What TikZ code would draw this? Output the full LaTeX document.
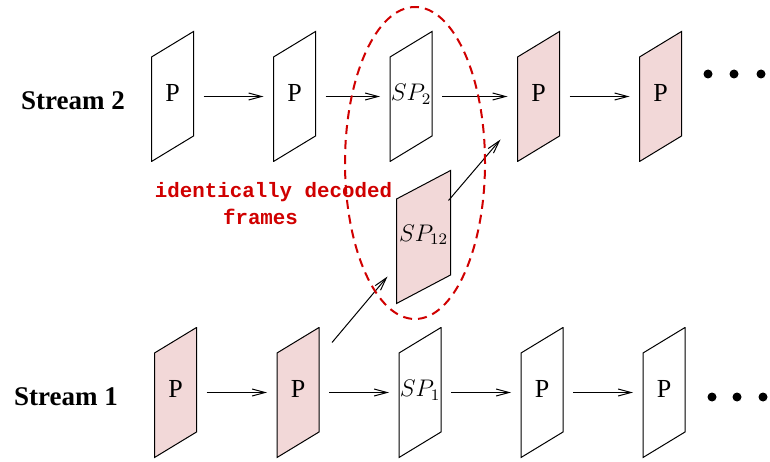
\documentclass[tikz,border=0pt]{standalone}
\usepackage{fontspec}
\setmainfont{Liberation Serif}
\setmonofont{Liberation Mono}
\usetikzlibrary{arrows.meta, shapes.geometric}
\definecolor{cpink}{HTML}{F2D8D8}
\definecolor{cred}{HTML}{D00000}
\tikzset{
  every picture/.style={x=5pt, y=5pt, line width=0.5pt},
  % slanted frame: vertical sides of 52.5pt, drawn inside the node box
  frame/.style={rectangle, inner sep=0pt, minimum width=21.5pt, minimum height=65.5pt,
    text depth=4pt, font=\fontsize{13}{15}\selectfont,
    path picture={
      \draw[fill=#1, line width=0.5pt]
        ([shift={(0.25pt,52.5pt)}]path picture bounding box.south west)
        -- ([shift={(-0.25pt,-0.25pt)}]path picture bounding box.north east)
        -- ([shift={(-0.25pt,-52.5pt)}]path picture bounding box.north east)
        -- ([shift={(0.25pt,0.25pt)}]path picture bounding box.south west) -- cycle;
    }},
  frame/.default=white,
  arrow/.style={-{Straight Barb[length=6.5pt, width=3.5pt]}, line width=0.5pt},
  gap/.style={shorten <=4.5pt, shorten >=4.5pt},
  stream/.style={font=\fontsize{13.5}{16}\selectfont\bfseries},
  note/.style={font=\fontsize{10.4}{12.5}\selectfont\ttfamily\bfseries, text=cred},
  dot/.style={circle, fill=black, minimum size=4.5pt, inner sep=0pt},
}

\begin{document}
\begin{tikzpicture}
  \useasboundingbox (0,0) rectangle (77,46.1);
  % ---- stream 2
  \node[stream] (st2) at (7.3,36.0) {Stream 2};
  \node[frame] (a1) at (17.25,36.45) {P};
  \node[frame] (a2) at (29.45,36.45) {P};
  \node[frame, font=\fontsize{12}{14}\selectfont] (a3) at (41.1,36.45) {$SP_2$};
  \node[frame=cpink] (a4) at (53.85,36.45) {P};
  \node[frame=cpink] (a5) at (66.05,36.45) {P};
  \foreach \i/\j in {1/2, 2/3, 3/4, 4/5} \draw[arrow, gap] (a\i) -- (a\j);
  \foreach \k/\xx in {1/70.8, 2/73.4, 3/76.1} \node[dot] (da\k) at (\xx,38.7) {};
  % ---- stream 1
  \node[stream] (st1) at (6.6,6.4) {Stream 1};
  \node[frame=cpink] (b1) at (17.55,6.85) {P};
  \node[frame=cpink] (b2) at (29.8,6.85) {P};
  \node[frame, font=\fontsize{12}{14}\selectfont] (b3) at (42.0,6.85) {$SP_1$};
  \node[frame] (b4) at (54.2,6.85) {P};
  \node[frame] (b5) at (66.4,6.85) {P};
  \foreach \i/\j in {1/2, 2/3, 3/4, 4/5} \draw[arrow, gap] (b\i) -- (b\j);
  \foreach \k/\xx in {1/71.2, 2/73.7, 3/76.3} \node[dot] (db\k) at (\xx,6.4) {};
  % ---- switching frame between the two
  \node[frame=cpink, minimum width=27.5pt, minimum height=67pt,
        font=\fontsize{12}{14}\selectfont] (sw) at (42.35,22.4) {$SP_{12}$};
  \draw[arrow] ([shift={(6pt,-8pt)}]b2.north east) -- ([shift={(-4pt,14pt)}]sw.south west);
  \draw[arrow] ([shift={(-1.5pt,-15.5pt)}]sw.north east) -- ([shift={(-8pt,11.5pt)}]a4.south west);
  % identical frames
  \node[ellipse, draw=cred, dash pattern=on 4.5pt off 3pt, line width=1pt,
        minimum width=70pt, minimum height=156pt, inner sep=0pt] (same) at (41.5,29.8) {};
  \node[note] (lbl1) at (27.35,26.9) {identically decoded};
  \node[note] (lbl2) at (26.05,24.4) {frames};
\end{tikzpicture}
\end{document}
